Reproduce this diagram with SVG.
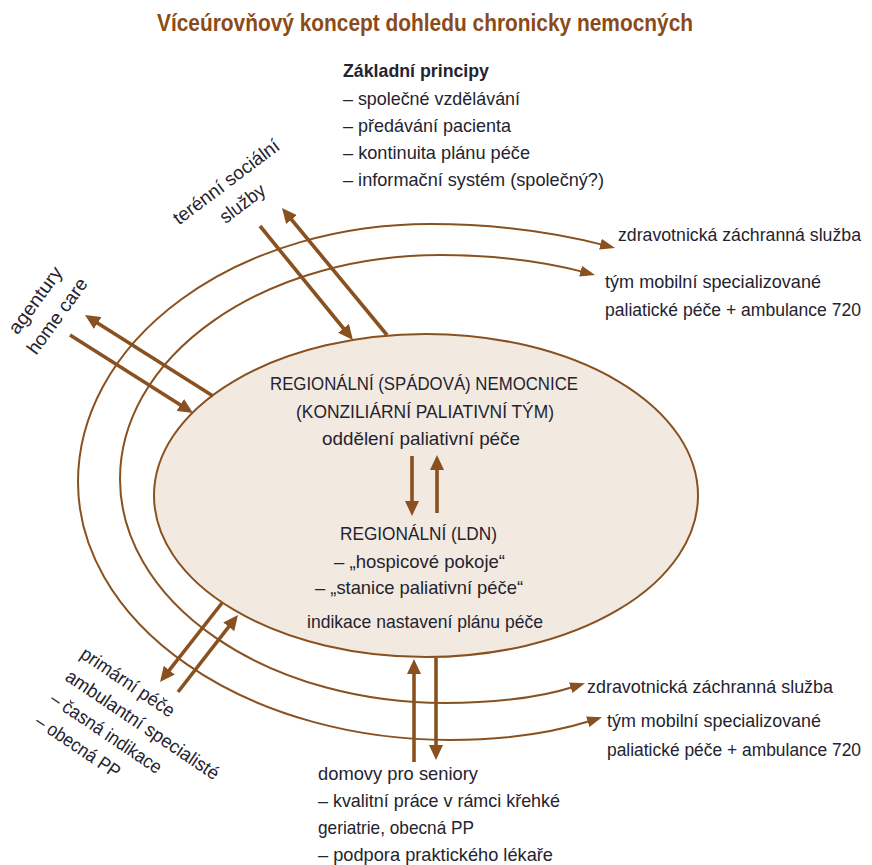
<svg xmlns="http://www.w3.org/2000/svg" width="872" height="865" viewBox="0 0 872 865">
<style>
text { font-family: 'Liberation Sans Narrow', 'Liberation Sans', Arial, sans-serif; font-size: 19px; fill: #24232f; }
.title { font-weight: bold; font-size: 23px; fill: #8b4b18; }
.bold { font-weight: bold; }
.sm { font-size: 17.5px; }
.ring { fill: none; stroke: #8a5120; stroke-width: 2; }
.arr { fill: none; stroke: #8a5120; stroke-width: 3.6; }
</style>
<defs>
<marker id="ah" markerUnits="userSpaceOnUse" markerWidth="15" markerHeight="14" refX="4" refY="7" orient="auto">
<path d="M0,0 L15,7 L0,14 z" fill="#8a5120"/>
</marker>
<marker id="as" markerUnits="userSpaceOnUse" markerWidth="15" markerHeight="11" refX="5" refY="5.5" orient="auto-start-reverse">
<path d="M0,0 L15,5.5 L0,11 z" fill="#8a5120"/>
</marker>
</defs>
<rect width="872" height="865" fill="#ffffff"/>

<text class="title" x="157" y="31" textLength="536" lengthAdjust="spacingAndGlyphs">Víceúrovňový koncept dohledu chronicky nemocných</text>

<g id="principles">
<text class="bold" x="343" y="77" textLength="146" lengthAdjust="spacingAndGlyphs">Základní principy</text>
<text x="343" y="105" textLength="177" lengthAdjust="spacingAndGlyphs">– společné vzdělávání</text>
<text x="343" y="132" textLength="168" lengthAdjust="spacingAndGlyphs">– předávání pacienta</text>
<text x="343" y="159" textLength="187" lengthAdjust="spacingAndGlyphs">– kontinuita plánu péče</text>
<text x="343" y="186" textLength="261" lengthAdjust="spacingAndGlyphs">– informační systém (společný?)</text>
</g>

<g id="rings">
<path class="ring" d="M605.3,245.4 C561,234 500,224 430,224 A352 258 0 0 0 78 482 A372 258 0 0 0 450 740 C505,740 552,733 592.5,720.2" marker-start="url(#as)" marker-end="url(#as)"/>
<path class="ring" d="M585.4,272.4 C550,263 500,255 440,255 A320 224 0 0 0 120 479 A325 224 0 0 0 445 703 C500,703 545,696 575.5,686.2" marker-start="url(#as)" marker-end="url(#as)"/>
</g>

<g id="hospital">
<ellipse cx="426" cy="495.5" rx="272" ry="161.5" fill="#f2eae1" stroke="#8a5120" stroke-width="2"/>
<text x="270" y="390" textLength="308" lengthAdjust="spacingAndGlyphs">REGIONÁLNÍ (SPÁDOVÁ) NEMOCNICE</text>
<text x="296" y="418" textLength="258" lengthAdjust="spacingAndGlyphs">(KONZILIÁRNÍ PALIATIVNÍ TÝM)</text>
<text x="322" y="445" textLength="198" lengthAdjust="spacingAndGlyphs">oddělení paliativní péče</text>
<text x="340" y="540" textLength="157" lengthAdjust="spacingAndGlyphs">REGIONÁLNÍ (LDN)</text>
<text x="334" y="568" textLength="171" lengthAdjust="spacingAndGlyphs">– „hospicové pokoje“</text>
<text x="315" y="594" textLength="208" lengthAdjust="spacingAndGlyphs">– „stanice paliativní péče“</text>
<text x="307" y="628" textLength="236" lengthAdjust="spacingAndGlyphs">indikace nastavení plánu péče</text>
</g>

<g id="zzs-top">
<text class="sm" x="618" y="241" textLength="243" lengthAdjust="spacingAndGlyphs">zdravotnická záchranná služba</text>
</g>
<g id="tym-top">
<text x="605" y="288" textLength="216" lengthAdjust="spacingAndGlyphs">tým mobilní specializované</text>
<text class="sm" x="605" y="316" textLength="256" lengthAdjust="spacingAndGlyphs">paliatické péče + ambulance 720</text>
</g>
<g id="zzs-bottom">
<text x="587" y="693" textLength="246" lengthAdjust="spacingAndGlyphs">zdravotnická záchranná služba</text>
</g>
<g id="tym-bottom">
<text x="607" y="727" textLength="214" lengthAdjust="spacingAndGlyphs">tým mobilní specializované</text>
<text class="sm" x="607" y="756" textLength="254" lengthAdjust="spacingAndGlyphs">paliatické péče + ambulance 720</text>
</g>

<g id="domovy">
<text x="318" y="780" textLength="160" lengthAdjust="spacingAndGlyphs">domovy pro seniory</text>
<text x="318" y="807" textLength="242" lengthAdjust="spacingAndGlyphs">– kvalitní práce v rámci křehké</text>
<text x="318" y="834" textLength="156" lengthAdjust="spacingAndGlyphs">geriatrie, obecná PP</text>
<text x="318" y="861" textLength="235" lengthAdjust="spacingAndGlyphs">– podpora praktického lékaře</text>
</g>

<g id="terenni" transform="translate(230,187) rotate(-37)">
<text x="0" y="0" text-anchor="middle" textLength="128" lengthAdjust="spacingAndGlyphs">terénní sociální</text>
<text x="0" y="27" text-anchor="middle" textLength="52" lengthAdjust="spacingAndGlyphs">služby</text>
</g>

<g id="agentury" transform="translate(40.5,304) rotate(-54)">
<text x="0" y="0" text-anchor="middle" textLength="78" lengthAdjust="spacingAndGlyphs">agentury</text>
<text x="0" y="27" text-anchor="middle" textLength="89" lengthAdjust="spacingAndGlyphs">home care</text>
</g>

<g id="primarni" transform="translate(79,657) rotate(34)">
<text x="0" y="0" textLength="109" lengthAdjust="spacingAndGlyphs">primární péče</text>
<text x="0" y="27" textLength="181" lengthAdjust="spacingAndGlyphs">ambulantní specialisté</text>
<text x="0" y="54" textLength="130" lengthAdjust="spacingAndGlyphs">– časná indikace</text>
<text x="0" y="81" textLength="98" lengthAdjust="spacingAndGlyphs">– obecná PP</text>
</g>

<g id="connectors">
<line class="arr" x1="260" y1="226" x2="346" y2="331.5" marker-end="url(#ah)"/>
<line class="arr" x1="387" y1="335" x2="289" y2="216.5" marker-end="url(#ah)"/>
<line class="arr" x1="213" y1="396" x2="94.3" y2="320.9" marker-end="url(#ah)"/>
<line class="arr" x1="70" y1="335" x2="183.7" y2="407.1" marker-end="url(#ah)"/>
<line class="arr" x1="222" y1="603" x2="166.8" y2="673.3" marker-end="url(#ah)"/>
<line class="arr" x1="178" y1="692" x2="231.2" y2="623.7" marker-end="url(#ah)"/>
<line class="arr" x1="414" y1="762" x2="414" y2="670" marker-end="url(#ah)"/>
<line class="arr" x1="436" y1="658" x2="436" y2="749" marker-end="url(#ah)"/>
<line class="arr" x1="412" y1="456" x2="412" y2="505" marker-end="url(#ah)"/>
<line class="arr" x1="437" y1="513" x2="437" y2="466" marker-end="url(#ah)"/>
</g>
</svg>
